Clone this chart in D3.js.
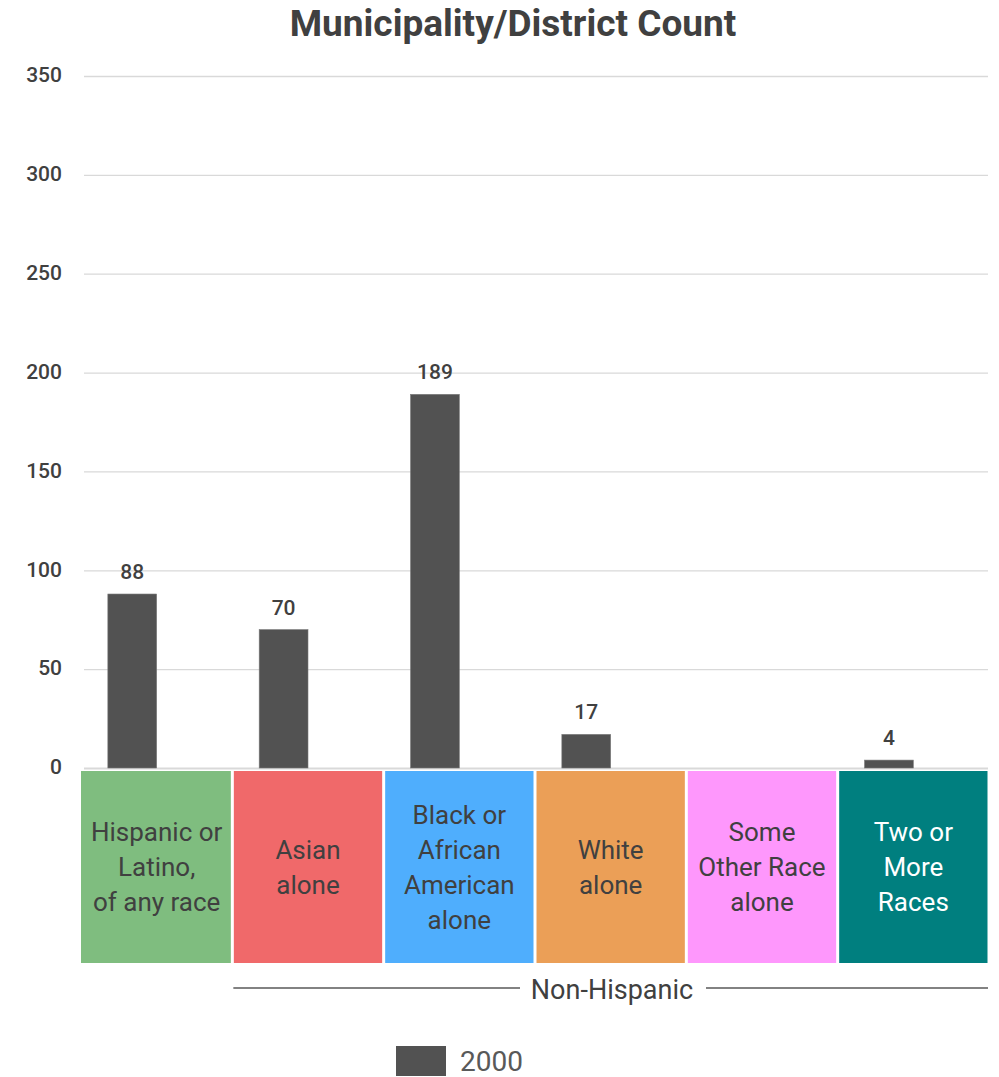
<!DOCTYPE html>
<html><head><meta charset="utf-8">
<script src="https://cdn.jsdelivr.net/npm/d3@7"></script>
<style>body{margin:0;background:#fff}svg{display:block}</style>
</head><body>
<svg id="c" width="999" height="1077"></svg>
<script>
const categories = ["Hispanic or Latino, of any race","Asian alone","Black or African American alone","White alone","Some Other Race alone","Two or More Races"];
const categoryLines = [["Hispanic or","Latino,","of any race"],["Asian","alone"],["Black or","African","American","alone"],["White","alone"],["Some","Other Race","alone"],["Two or","More","Races"]];
const categoryColors = ["#7fbd7f","#f0696a","#4faefd","#eb9f57","#fe97fc","#007f7f"];
const labelColors = ["#404040","#404040","#404040","#404040","#404040","#ffffff"];
const series = ["2000","(blank)"];
const values2000 = [88,70,189,17,null,4];
const yTicks = [0,50,100,150,200,250,300,350];

const svg = d3.select("#c");
const x = d3.scaleBand().domain(categories).range([81,989]).padding(0);
const xin = d3.scaleBand().domain(series).range([0,x.bandwidth()]).paddingInner(0).paddingOuter(0.55);
const y = d3.scaleLinear().domain([0,350]).range([768,76]);
const font = "Roboto, 'Open Sans', sans-serif";

svg.append("text").attr("x",513).attr("y",36).attr("text-anchor","middle")
  .attr("font-family",font).attr("font-weight",700).attr("font-size",37).attr("fill","#404040")
  .text("Municipality/District Count");

// gridlines
svg.append("g").selectAll("line").data(yTicks).join("line")
  .attr("x1",84).attr("x2",988).attr("y1",d=>y(d)+0.5).attr("y2",d=>y(d)+0.5)
  .attr("stroke","#d9d9d9").attr("stroke-width",d=>d===0?2:1.3);

// y axis labels
const yAxis = d3.axisLeft(y).tickValues(yTicks).tickSize(0).tickPadding(0);
const ga = svg.append("g").attr("transform","translate(62,-1)").call(yAxis);
ga.select(".domain").remove();
ga.selectAll("text").attr("font-family",font).attr("font-size",21).attr("font-weight",500).attr("fill","#404040");

// bars
const bars = categories.map((c,i)=>({c,v:values2000[i]})).filter(d=>d.v!=null);
svg.append("g").selectAll("rect").data(bars).join("rect")
  .attr("x",d=>x(d.c)+xin("2000")).attr("width",xin.bandwidth())
  .attr("y",d=>y(d.v)).attr("height",d=>y(0)-y(d.v))
  .attr("fill","#525252").attr("stroke","#7a7a7a").attr("stroke-width",0.6);
svg.append("g").selectAll("text").data(bars).join("text")
  .attr("x",d=>x(d.c)+xin("2000")+xin.bandwidth()/2).attr("y",d=>y(d.v)-15)
  .attr("text-anchor","middle").attr("font-family",font).attr("font-size",21).attr("font-weight",500)
  .attr("fill","#404040").text(d=>d.v);

// category boxes
const gb = svg.append("g");
categories.forEach((c,i)=>{
  const x0 = x(c), w = x.bandwidth();
  gb.append("rect").attr("x",x0+(i===0?0:1.5)).attr("y",771).attr("width",w-(i===0?1.5:3)).attr("height",192)
    .attr("fill",categoryColors[i]);
  const lines = categoryLines[i];
  const lh = 35, cy = 867;
  const t = gb.append("text").attr("text-anchor","middle").attr("font-family",font).attr("font-size",26)
    .attr("fill",labelColors[i]);
  lines.forEach((l,j)=>{
    t.append("tspan").attr("x",x0+w/2).attr("y",cy+(j-(lines.length-1)/2)*lh+9).text(l);
  });
});

// Non-Hispanic bracket
const nhX0 = x(categories[1])+1, nhX1 = 988;
svg.append("line").attr("x1",nhX0).attr("x2",520).attr("y1",988).attr("y2",988).attr("stroke","#595959").attr("stroke-width",1.5);
svg.append("line").attr("x1",706).attr("x2",nhX1).attr("y1",988).attr("y2",988).attr("stroke","#595959").attr("stroke-width",1.5);
svg.append("text").attr("x",612).attr("y",999).attr("text-anchor","middle").attr("font-family",font)
  .attr("font-size",27).attr("fill","#404040").text("Non-Hispanic");

// legend
svg.append("rect").attr("x",396).attr("y",1046).attr("width",50).attr("height",30).attr("fill","#525252");
svg.append("text").attr("x",460).attr("y",1071).attr("font-family",font).attr("font-size",28).attr("fill","#595959").text("2000");
</script>
</body></html>
